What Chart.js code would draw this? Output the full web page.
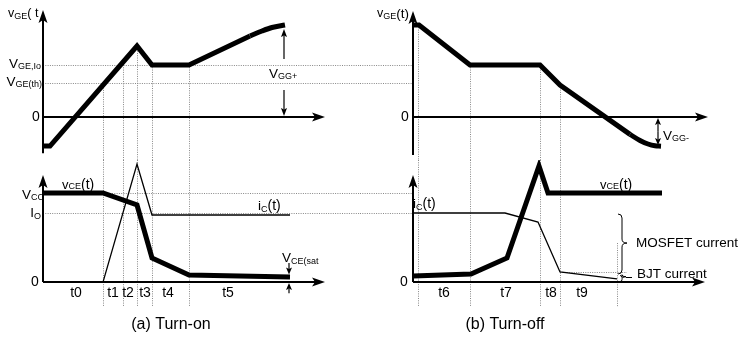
<!DOCTYPE html>
<html>
<head>
<meta charset="utf-8">
<script src="https://cdn.jsdelivr.net/npm/chart.js@4.4.0/dist/chart.umd.min.js"></script>
<style>
  body { margin: 0; background: #fff; width: 743px; height: 340px; overflow: hidden; position: relative; }
  canvas { position: absolute; }
</style>
</head>
<body>
<canvas id="onTop" width="360" height="160" style="left:0;top:0"></canvas>
<canvas id="onBot" width="360" height="180" style="left:0;top:160px"></canvas>
<canvas id="offTop" width="383" height="160" style="left:360px;top:0"></canvas>
<canvas id="offBot" width="383" height="180" style="left:360px;top:160px"></canvas>
<script>
// time in arbitrary units, gate voltage in V, vCE and iC in % (VCC = 100)
const vgeIo = 8.44, vgeTh = 5.51, vggPlus = 14.94, vggMinus = -4.73;
const vcc = 100, io = 77.5, bjtLevel = 11.3;

// (a) turn-on
const onVgeT = [0, 1.75, 23.5, 27.25, 36.5, 51.75];
const onVge = [-4.73, -4.73, 11.52, 8.44, 8.44, 13.15];
const onVgeTailT = [51.75, 54.75, 57.25, 60.5];
const onVgeTail = [13.15, 13.96, 14.53, 14.94];
const onVceT = [0, 15, 23.5, 27.25, 36.5, 61.75];
const onVce = [100, 100, 86.5, 27.0, 7.95, 5.7];
const onIcT = [15, 23.5, 27.25, 61.75];
const onIc = [0, 132.5, 75.3, 75.3];
const onBounds = [15, 20, 23.5, 27.25, 36.5];
const onBoundTop = [5.51, 8.44, 11.52, 8.44, 8.44];
const onLabels = ['t0', 't1', 't2', 't3', 't4', 't5'];
const onLabelT = [8.25, 17.5, 21.25, 25.5, 31.25, 46.25];

// (b) turn-off
const offVgeT = [0, 1.5, 14.25, 31.75, 36.75, 54.25];
const offVge = [14.94, 14.94, 8.44, 8.44, 5.19, -2.84];
const offVgeTailT = [54.25, 56.75, 58.75, 60.5, 62];
const offVgeTail = [-2.84, -3.83, -4.4, -4.69, -4.75];
const offVceT = [0, 14.5, 23.5, 31.5, 33.75, 62.25];
const offVce = [6.8, 9.1, 27.0, 130.3, 100, 100];
const offIcT = [0, 23, 31.25, 36.75, 51];
const offIc = [77.5, 77.5, 67.4, 11.3, 3.5];
const offBounds = [1.25, 14.25, 31.75, 36.75];
const offBoundTop = [14.94, 8.44, 8.44, 5.19];
const t9End = 51;
const offLabels = ['t6', 't7', 't8', 't9'];
const offLabelT = [7.75, 23.25, 34.5, 42.25];

const FONT = '"Liberation Sans", Arial, sans-serif';

function series(xs, ys, w, mode) {
  return {
    data: xs.map((x, i) => ({x: x, y: ys[i]})),
    showLine: true,
    borderColor: '#000',
    borderWidth: w,
    pointRadius: 0,
    borderJoinStyle: 'miter',
    cubicInterpolationMode: mode || 'default',
    tension: 0
  };
}

function dotted(ctx, x1, y1, x2, y2) {
  ctx.save();
  ctx.strokeStyle = '#888';
  ctx.lineWidth = 1;
  ctx.setLineDash([1, 1.3]);
  if (x1 === x2) { x1 = x2 = Math.round(x1) + 0.5; }
  if (y1 === y2) { y1 = y2 = Math.round(y1) + 0.5; }
  ctx.beginPath();
  ctx.moveTo(x1, y1);
  ctx.lineTo(x2, y2);
  ctx.stroke();
  ctx.restore();
}

function arrow(ctx, x1, y1, x2, y2, lw, len, half, notch) {
  const d = Math.hypot(x2 - x1, y2 - y1);
  const dx = (x2 - x1) / d, dy = (y2 - y1) / d;
  ctx.save();
  ctx.strokeStyle = '#000';
  ctx.fillStyle = '#000';
  ctx.lineWidth = lw;
  ctx.beginPath();
  ctx.moveTo(x1, y1);
  ctx.lineTo(x2 - dx * (len - notch), y2 - dy * (len - notch));
  ctx.stroke();
  const bx = x2 - dx * len, by = y2 - dy * len;
  ctx.beginPath();
  ctx.moveTo(x2, y2);
  ctx.lineTo(bx - dy * half, by + dx * half);
  ctx.lineTo(x2 - dx * (len - notch), y2 - dy * (len - notch));
  ctx.lineTo(bx + dy * half, by - dx * half);
  ctx.closePath();
  ctx.fill();
  ctx.restore();
}

function txt(ctx, x, y, parts, align) {
  let w = 0;
  parts.forEach(p => { ctx.font = p[1] + 'px ' + FONT; w += ctx.measureText(p[0]).width; });
  let cx = align === 'right' ? x - w : (align === 'center' ? x - w / 2 : x);
  ctx.save();
  ctx.fillStyle = '#000';
  ctx.textBaseline = 'middle';
  ctx.textAlign = 'left';
  parts.forEach(p => {
    ctx.font = p[1] + 'px ' + FONT;
    ctx.fillText(p[0], cx, y + (p[2] || 0));
    cx += ctx.measureText(p[0]).width;
  });
  ctx.restore();
}

function brace(ctx, x, y1, y2, ym, tipX, r) {
  ctx.save();
  ctx.strokeStyle = '#000';
  ctx.lineWidth = 1;
  ctx.beginPath();
  ctx.moveTo(x - r, y1);
  ctx.quadraticCurveTo(x, y1, x, y1 + r);
  ctx.lineTo(x, ym - r);
  ctx.quadraticCurveTo(x, ym, tipX, ym);
  ctx.quadraticCurveTo(x, ym, x, ym + r);
  ctx.lineTo(x, y2 - r);
  ctx.quadraticCurveTo(x, y2, x - r, y2);
  ctx.stroke();
  ctx.restore();
}

function makeChart(id, xr, yr, datasets, under, over) {
  return new Chart(id, {
    type: 'scatter',
    data: {datasets: datasets},
    options: {
      responsive: false,
      animation: false,
      devicePixelRatio: 1,
      layout: {padding: 0},
      scales: {
        x: {type: 'linear', display: false, min: xr[0], max: xr[1]},
        y: {type: 'linear', display: false, min: yr[0], max: yr[1]}
      },
      plugins: {legend: {display: false}, tooltip: {enabled: false}}
    },
    plugins: [{
      id: 'decor',
      beforeDatasetsDraw(c) {
        under(c.ctx, v => c.scales.x.getPixelForValue(v), v => c.scales.y.getPixelForValue(v), c.width, c.height);
      },
      afterDatasetsDraw(c) {
        over(c.ctx, v => c.scales.x.getPixelForValue(v), v => c.scales.y.getPixelForValue(v), c.width, c.height);
      }
    }]
  });
}

const topRange = [-7, 19], botRange = [-65, 137];

// ---- (a) top: vGE turn-on
makeChart('onTop', [-10.75, 79.25], topRange,
  [series(onVgeT, onVge, 5), series(onVgeTailT, onVgeTail, 5, 'monotone')],
  (ctx, x, y, W, H) => {
    dotted(ctx, x(0), y(vgeIo), W, y(vgeIo));
    dotted(ctx, x(0), y(vgeTh), W, y(vgeTh));
    onBounds.forEach((t, i) => dotted(ctx, x(t), y(onBoundTop[i]), x(t), H));
  },
  (ctx, x, y, W, H) => {
    const ax = x(0), y0 = y(0);
    arrow(ctx, ax, y(-5.9), ax, y(17.37), 2, 13, 4.5, 3);
    arrow(ctx, ax, y0, x(70.5), y0, 2, 13, 4.5, 3);
    const xv = x(60.25);
    arrow(ctx, xv, y(9.41), xv, y(vggPlus) + 4, 1.2, 8, 3, 1.5);
    arrow(ctx, xv, y(4.37), xv, y0 - 1, 1.2, 8, 3, 1.5);
    txt(ctx, ax - 35, 14, [['v', 12.5], ['GE', 9, 3], ['( t', 12.5]], 'left');
    txt(ctx, ax - 2, y(vgeIo) - 1, [['V', 13.5], ['GE,Io', 9, 3]], 'right');
    txt(ctx, ax - 1, y(vgeTh) - 1, [['V', 13.5], ['GE(th)', 9, 3]], 'right');
    txt(ctx, ax - 7, y0, [['0', 14]], 'center');
    txt(ctx, xv - 15, 74, [['V', 13.5], ['GG+', 9, 3]], 'left');
  });

// ---- (a) bottom: vCE and iC turn-on
makeChart('onBot', [-10.75, 79.25], botRange,
  [series(onIcT, onIc, 1.3), series(onVceT, onVce, 5)],
  (ctx, x, y, W, H) => {
    dotted(ctx, x(0), y(vcc), W, y(vcc));
    dotted(ctx, x(0), y(io), W, y(io));
    onBounds.forEach(t => dotted(ctx, x(t), 0, x(t), y(-27.8)));
  },
  (ctx, x, y, W, H) => {
    const ax = x(0), y0 = y(0);
    arrow(ctx, ax, y0, ax, y(120.1), 2, 13, 4.5, 3);
    arrow(ctx, ax, y0, x(70.5), y0, 2, 13, 4.5, 3);
    const xs = x(61.5);
    arrow(ctx, xs, y(21.3), xs, y(8.6), 1.2, 7, 3, 1.5);
    arrow(ctx, xs, y(-12.4), xs, y0 + 1, 1.2, 7, 3, 1.5);
    txt(ctx, ax + 19, y(vcc) - 8, [['v', 13], ['CE', 9, 2], ['(t)', 14]], 'left');
    txt(ctx, ax + 1, y(vcc) + 2, [['V', 13.5], ['CC', 9, 3]], 'right');
    txt(ctx, ax - 2, y(io), [['I', 13.5], ['O', 9, 3]], 'right');
    txt(ctx, ax - 8, y0, [['0', 14]], 'center');
    txt(ctx, x(53.75), y(io) - 7, [['i', 13.5], ['C', 9, 3], ['(t)', 14]], 'left');
    txt(ctx, x(59.75), y0 - 24, [['V', 13.5], ['CE(sat', 9, 3]], 'left');
    onLabels.forEach((s, i) => txt(ctx, x(onLabelT[i]), y0 + 11, [[s, 14]], 'center'));
    txt(ctx, x(32), 165, [['(a) Turn-on', 16]], 'center');
  });

// ---- (b) top: vGE turn-off
makeChart('offTop', [-13.25, 82.5], topRange,
  [series(offVgeT, offVge, 5), series(offVgeTailT, offVgeTail, 5, 'monotone')],
  (ctx, x, y, W, H) => {
    dotted(ctx, 0, y(vgeIo), x(0), y(vgeIo));
    dotted(ctx, 0, y(vgeTh), x(0), y(vgeTh));
    offBounds.forEach((t, i) => dotted(ctx, x(t), y(offBoundTop[i]), x(t), H));
  },
  (ctx, x, y, W, H) => {
    const ax = x(0), y0 = y(0);
    arrow(ctx, ax, y(-6.2), ax, y(17.2), 2, 13, 4.5, 3);
    arrow(ctx, ax, y0, x(73.75), y0, 2, 13, 4.5, 3);
    const xv = x(61.25);
    arrow(ctx, xv, y(-2.4), xv, y0 + 1, 1.2, 7, 3, 1.5);
    arrow(ctx, xv, y(-2.4), xv, y(vggMinus) - 1, 1.2, 7, 3, 1.5);
    txt(ctx, ax - 36, 14, [['v', 12.5], ['GE', 9, 3], ['(t)', 13.5]], 'left');
    txt(ctx, ax - 8, y0, [['0', 14]], 'center');
    txt(ctx, xv + 5, y0 + 19, [['V', 13.5], ['GG-', 9, 3]], 'left');
  });

// ---- (b) bottom: vCE and iC turn-off
makeChart('offBot', [-13.25, 82.5], botRange,
  [series(offIcT, offIc, 1.3), series(offVceT, offVce, 5)],
  (ctx, x, y, W, H) => {
    dotted(ctx, 0, y(vcc), x(0), y(vcc));
    dotted(ctx, 0, y(io), x(0), y(io));
    offBounds.forEach(t => dotted(ctx, x(t), 0, x(t), y(-27.8)));
    dotted(ctx, x(t9End), y(43.8), x(t9End), y(-27.8));
    dotted(ctx, x(36.75), y(bjtLevel), x(53.5), y(bjtLevel));
  },
  (ctx, x, y, W, H) => {
    const ax = x(0), y0 = y(0);
    arrow(ctx, ax, y0, ax, y(120.1), 2, 13, 4.5, 3);
    arrow(ctx, ax, y0, x(73), y0, 2, 13, 4.5, 3);
    const bx = x(52.25);
    brace(ctx, bx, y(io) + 1, y(bjtLevel) + 2, y(43.8), bx + 5, 4);
    brace(ctx, bx, y(bjtLevel) + 3.5, y0 - 0.5, y(6), bx + 4, 2);
    ctx.save();
    ctx.lineWidth = 1;
    ctx.beginPath();
    ctx.moveTo(bx + 4, Math.round(y(6)) + 0.5);
    ctx.lineTo(bx + 10, Math.round(y(6)) + 0.5);
    ctx.stroke();
    ctx.restore();
    txt(ctx, ax, y(io) - 9, [['i', 13.5], ['C', 9, 3], ['(t)', 14]], 'left');
    txt(ctx, x(46.75), y(vcc) - 8, [['v', 13], ['CE', 9, 2], ['(t)', 14]], 'left');
    txt(ctx, ax - 9, y0, [['0', 14]], 'center');
    txt(ctx, x(55.75), y(43.8), [['MOSFET current', 13.5]], 'left');
    txt(ctx, x(56), y0 - 8, [['BJT current', 13.5]], 'left');
    offLabels.forEach((s, i) => txt(ctx, x(offLabelT[i]), y0 + 11, [[s, 14]], 'center'));
    txt(ctx, x(23), 165, [['(b) Turn-off', 16]], 'center');
  });
</script>
</body>
</html>
